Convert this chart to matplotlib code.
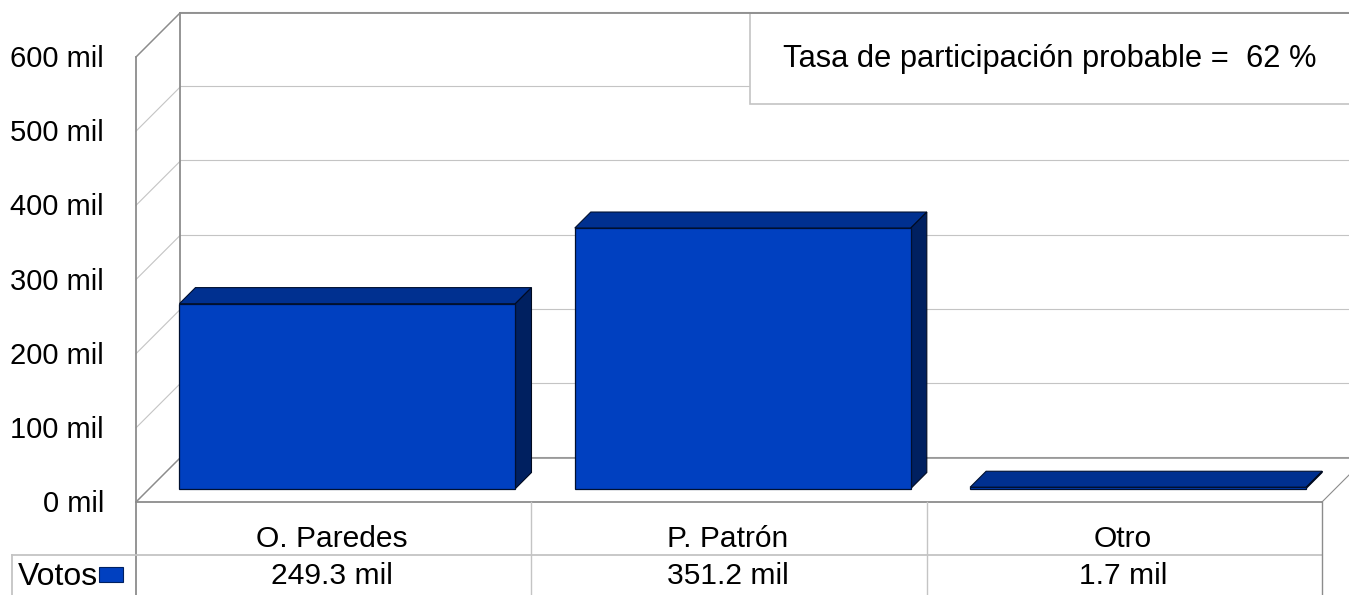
import matplotlib
matplotlib.use("Agg")
import matplotlib.pyplot as plt
from matplotlib.patches import Rectangle
from matplotlib.transforms import Affine2D

candidatos = ["O. Paredes", "P. Patrón", "Otro"]
votos = [249.3, 351.2, 1.7]
votos_txt = ["249.3 mil", "351.2 mil", "1.7 mil"]
ticks = [0, 100, 200, 300, 400, 500, 600]
nota = "Tasa de participación probable =  62 %"
serie = "Votos"

AZUL = "#0040c0"
AZUL_TOP = "#003090"
AZUL_SIDE = "#002060"
GRID = "#c4c4c4"
WALL = "#8c8c8c"

plt.rcParams["font.family"] = "Liberation Sans"
W, H = 1349, 595
fig = plt.figure(figsize=(W / 100, H / 100), dpi=100, facecolor="white")

# furniture of the fake 3d box, in pixels
bg = fig.add_axes([0, 0, 1, 1])
bg.set_xlim(0, W)
bg.set_ylim(H, 0)
bg.axis("off")

# real scale: front plane of the box
x0, x1, y0, y1 = 136, 1322, 502, 57
ax = fig.add_axes([x0 / W, 1 - y0 / H, (x1 - x0) / W, (y0 - y1) / H])
ax.set_xlim(0, 3)
ax.set_ylim(0, 600)
ax.patch.set_alpha(0)
for s in ax.spines.values():
    s.set_visible(False)
ax.set_yticks(ticks, [f"{t} mil" for t in ticks], fontsize=21, color="black")
ax.tick_params(axis="y", length=0, pad=23)
ax.set_xticks([i + 0.5 for i in range(3)], candidatos, fontsize=21.6)
ax.tick_params(axis="x", length=0, pad=17)
for lab in ax.get_xticklabels():
    lab.set_transform(lab.get_transform() + Affine2D().translate(-1.5, 1))
for lab in ax.get_yticklabels():
    lab.set_transform(lab.get_transform() + Affine2D().translate(0, 1))

# gridlines: left wall diagonal + back wall
back = 44
for t in ticks:
    yp = y0 - (y0 - y1) * t / 600
    bg.plot([x0, x0 + back], [yp, yp - back], color=GRID, lw=0.8)
    bg.plot([x0 + back, W], [yp - back - 1, yp - back - 1], color=GRID, lw=0.8)

# walls
bg.plot([x0 + back, x0 + back], [y1 - back, y0 - back], color=WALL, lw=1.3)
bg.plot([x0, x0 + back], [y1, y1 - back], color=WALL, lw=1)
bg.plot([x0, x0 + back], [y0, y0 - back], color=WALL, lw=1)
bg.plot([x0 + back, W], [y0 - back, y0 - back], color=WALL, lw=1.1)
bg.plot([x0, x0], [y1, H], color=WALL, lw=1.3)
bg.plot([x0, x1], [y0, y0], color=WALL, lw=1.3)
bg.plot([x1, x1 + 44], [y0, y0 - back], color=WALL, lw=0.8)

# table under the chart
bg.plot([12, x1], [555, 555], color=GRID, lw=1.3)
bg.plot([12, 12], [555, H], color=GRID, lw=1.3)
for i in range(1, 4):
    xp = x0 + (x1 - x0) * i / 3
    bg.plot([xp, xp], [y0, H], color=GRID if i < 3 else WALL, lw=1)
bg.text(18, 577, serie, fontsize=23, va="center", ha="left", color="black")
bg.add_patch(Rectangle((99, 567), 24, 15, fc=AZUL, ec=AZUL_SIDE, lw=0.8, zorder=3))
for i, s in enumerate(votos_txt):
    bg.text(x0 + (x1 - x0) * (i + 0.5) / 3 - 1.5, 576.5, s, fontsize=21.6, ha="center", va="center", color="black")

# annotation box
bg.add_patch(Rectangle((750, 13), 620, 91, fc="white", ec=GRID, lw=1.2, zorder=3))
bg.plot([x0 + back, W], [y1 - back, y1 - back], color=WALL, lw=1.3, zorder=5)
bg.text(1050, 59, nota, fontsize=22.2, ha="center", va="center", color="black", zorder=4)

# bars, shifted into the box and extruded backwards
plano = ax.transData + Affine2D().translate(13.8, 13.5)
ancho = 0.85
dx = 16 / ((x1 - x0) / 3)
dy = 16 / ((y0 - y1) / 600)
for i, v in enumerate(votos):
    c = i + 0.5
    l, r = c - ancho / 2, c + ancho / 2
    ax.fill([l, r, r + dx, l + dx], [v, v, v + dy, v + dy], fc=AZUL_TOP, ec="#001030", lw=0.8,
            transform=plano, clip_on=False, zorder=3)
    ax.fill([r, r + dx, r + dx, r], [0, dy, v + dy, v], fc=AZUL_SIDE, ec="#000a20", lw=0.8,
            transform=plano, clip_on=False, zorder=3)
ax.bar([i + 0.5 for i in range(3)], votos, width=ancho, color=AZUL, edgecolor="#001030", lw=0.9,
       transform=plano, clip_on=False, zorder=4)

fig.savefig("out.png", dpi=100, facecolor="white")
